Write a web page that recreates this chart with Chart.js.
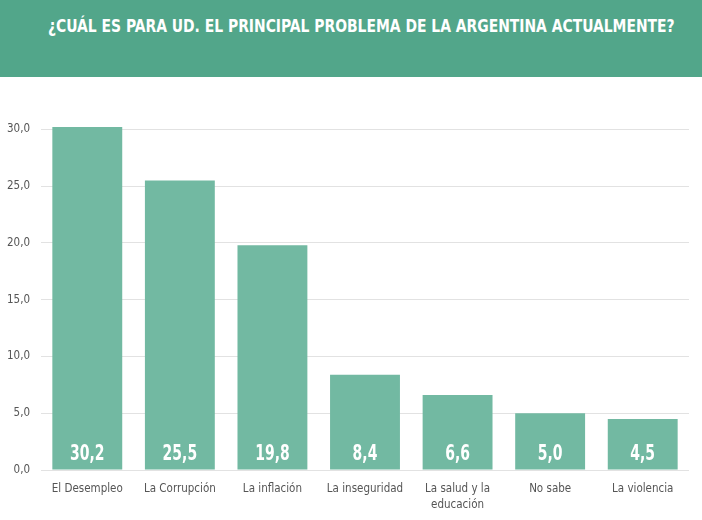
<!DOCTYPE html>
<html>
<head>
<meta charset="utf-8">
<script src="https://cdn.jsdelivr.net/npm/chart.js@4.4.1/dist/chart.umd.min.js"></script>
<style>
  html, body { margin: 0; padding: 0; background: #fff; }
  body { width: 702px; height: 520px; overflow: hidden; font-family: "Liberation Sans Narrow", "DejaVu Sans Condensed", sans-serif; }
  .header { height: 77px; background: #52a68a; color: #fff; position: relative; }
  .header h1 { margin: 0; position: absolute; left: 48px; top: 15px; white-space: nowrap; transform-origin: 0 0; font-size: 18px; line-height: 22px; font-weight: bold; }
  .wrap { position: relative; width: 702px; height: 443px; }
</style>
</head>
<body>
<div class="header"><h1 id="title">¿CUÁL ES PARA UD. EL PRINCIPAL PROBLEMA DE LA ARGENTINA ACTUALMENTE?</h1></div>
<div class="wrap"><canvas id="chart"></canvas></div>
<script>
const categories = ['El Desempleo', 'La Corrupción', 'La inflación', 'La inseguridad', ['La salud y la', 'educación'], 'No sabe', 'La violencia'];
const values = [30.2, 25.5, 19.8, 8.4, 6.6, 5.0, 4.5];
const yTicks = [0, 5, 10, 15, 20, 25, 30];

const fontFamily = '"Liberation Sans Narrow", "DejaVu Sans Condensed", sans-serif';
const fmt = v => v.toFixed(1).replace('.', ',');

// squeeze the title to the width it has in the original
const title = document.getElementById('title');
title.style.transform = 'scaleX(' + (627 / title.offsetWidth) + ')';

// draw the value inside each bar, near the bottom
const valueLabels = {
    id: 'valueLabels',
    afterDatasetsDraw(chart) {
        const ctx = chart.ctx;
        const meta = chart.getDatasetMeta(0);
        const zero = chart.scales.y.getPixelForValue(0);
        ctx.fillStyle = '#ffffff';
        ctx.font = 'bold 21px ' + fontFamily;
        ctx.textAlign = 'center';
        ctx.textBaseline = 'middle';
        meta.data.forEach((bar, i) => {
            ctx.save();
            ctx.translate(bar.x, zero - 15);
            ctx.scale(0.74, 1);
            ctx.fillText(fmt(values[i]), 0, 0);
            ctx.restore();
        });
    }
};

new Chart(document.getElementById('chart'), {
    type: 'bar',
    data: {
        labels: categories,
        datasets: [{
            data: values,
            backgroundColor: '#72b9a2',
            categoryPercentage: 1,
            barPercentage: 0.755
        }]
    },
    options: {
        responsive: true,
        maintainAspectRatio: false,
        animation: false,
        layout: { padding: { top: 41, right: 13, left: 0, bottom: 4 } },
        plugins: { legend: { display: false }, tooltip: { enabled: false } },
        scales: {
            x: {
                grid: { display: false },
                border: { display: false },
                ticks: { color: '#555', font: { family: fontFamily, size: 11.5, lineHeight: 1.39 }, padding: 3, maxRotation: 0, autoSkip: false }
            },
            y: {
                min: 0,
                max: 31,
                afterBuildTicks: scale => { scale.ticks = yTicks.map(v => ({ value: v })); },
                afterFit: scale => { scale.width = 41; },
                grid: { color: '#e2e2e2', drawTicks: false },
                border: { display: false },
                ticks: { color: '#555', font: { family: fontFamily, size: 11.5 }, padding: 11, callback: v => fmt(v) }
            }
        }
    },
    plugins: [valueLabels]
});
</script>
</body>
</html>
